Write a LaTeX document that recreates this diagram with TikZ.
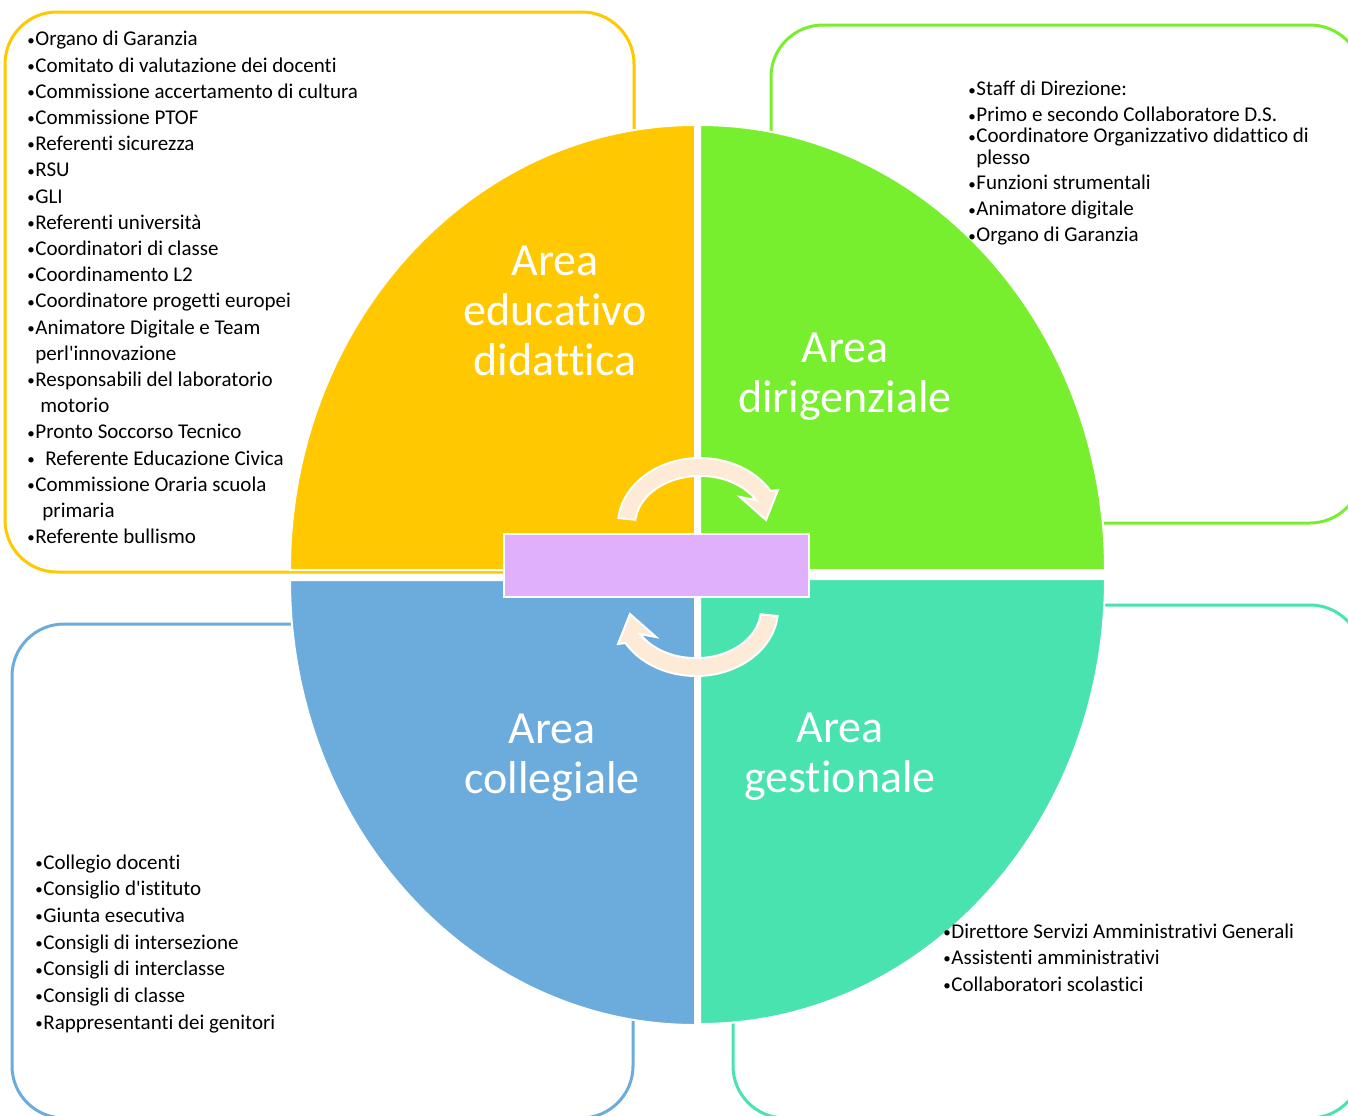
\documentclass[tikz,border=0pt]{standalone}
\usepackage{fontspec}
\setmainfont{Carlito}[Ligatures={TeX,NoCommon}]

\definecolor{edu}{HTML}{FFC800}
\definecolor{dir}{HTML}{77EE2E}
\definecolor{col}{HTML}{6CACDC}
\definecolor{ges}{HTML}{48E3AE}
\definecolor{hubfill}{HTML}{E0B0FC}
\definecolor{turnfill}{HTML}{FDEBD8}

\newcommand{\blt}{\makebox[4pt][l]{\raisebox{0.4pt}{\fontsize{7.5}{7.5}\selectfont\textbullet}}}

\begin{document}
\begin{tikzpicture}[x=0.5pt, y=-0.5pt,
    box/.style={line width=1.5pt, rounded corners=26pt},
    quarter/.style={draw=white, line width=1pt},
    turn/.style={fill=turnfill, draw=white, line width=1pt},
    lst/.style={anchor=north west, inner sep=0pt, align=left},
    big/.style={anchor=north, inner sep=0pt, align=center, text=white,
      font=\fontsize{23}{25}\selectfont}
    ]
    \useasboundingbox (0,0) rectangle (1348,1115);
    \clip (0,0) rectangle (1348,1115);

    \draw[box, draw=edu] (5,12) rectangle (634,572);
    \draw[box, draw=dir] (771,25) rectangle (1362,523);
    \draw[box, draw=col] (12,624) rectangle (633,1118);
    \draw[box, draw=ges] (733,605) rectangle (1362,1118);

    \filldraw[quarter, fill=edu] (695,570) -- (290,570)
      arc[start angle=180, end angle=270, x radius=405, y radius=445] -- cycle;
    \filldraw[quarter, fill=dir] (700,570) -- (700,125)
      arc[start angle=270, end angle=360, x radius=405, y radius=445] -- cycle;
    \filldraw[quarter, fill=ges] (700,579) -- (1105,579)
      arc[start angle=0, end angle=90, x radius=405, y radius=445] -- cycle;
    \filldraw[quarter, fill=col] (695,580) -- (695,1025)
      arc[start angle=90, end angle=180, x radius=405, y radius=445] -- cycle;

    \filldraw[turn] (618.4,518)
      arc[start angle=186, end angle=329.5, x radius=82, y radius=67]
      -- (778,490) -- (766,520) -- (740,497) -- (756,500)
      arc[start angle=329.5, end angle=186, x radius=65, y radius=49] -- cycle;
    \begin{scope}[rotate around={180:(698,567)}]
      \filldraw[turn] (618.4,518)
        arc[start angle=186, end angle=329.5, x radius=82, y radius=67]
        -- (778,490) -- (766,520) -- (740,497) -- (756,500)
        arc[start angle=329.5, end angle=186, x radius=65, y radius=49] -- cycle;
    \end{scope}

    \node[fill=hubfill, draw=white, line width=0.8pt, inner sep=0pt,
      minimum width=152.5pt, minimum height=31.5pt] (hub) at (656.5,565.5) {};

    \node[big] (edulabel) at (555,246) {Area\\educativo\\didattica};
    \node[big] (dirlabel) at (845,333) {Area\\dirigenziale};
    \node[big] (collabel) at (552,714) {Area\\collegiale};
    \node[big] (geslabel) at (840,713) {Area\\gestionale};

    \node[lst, font=\fontsize{10.5}{13.1}\selectfont] (edulist) at (27,31) {%
      \blt Organo di Garanzia\\
      \blt Comitato di valutazione dei docenti\\
      \blt Commissione accertamento di cultura\\
      \blt Commissione PTOF\\
      \blt Referenti sicurezza\\
      \blt RSU\\
      \blt GLI\\
      \blt Referenti università\\
      \blt Coordinatori di classe\\
      \blt Coordinamento L2\\
      \blt Coordinatore progetti europei\\
      \blt Animatore Digitale e Team\\
      \hspace*{4pt}perl\textquotesingle innovazione\\
      \blt Responsabili del laboratorio\\
      \hspace*{6.5pt}motorio\\
      \blt Pronto Soccorso Tecnico\\
      \blt\hspace{5pt}Referente Educazione Civica\\
      \blt Commissione Oraria scuola\\
      \hspace*{7.5pt}primaria\\
      \blt Referente bullismo};

    \node[lst, font=\fontsize{10.5}{13}\selectfont] (dirlist) at (968,81) {%
      \blt Staff di Direzione:\\
      \blt Primo e secondo Collaboratore D.S.\\[-2.5pt]
      \blt Coordinatore Organizzativo didattico di\\[-2pt]
      \hspace*{4pt}plesso\\[-0.5pt]
      \blt Funzioni strumentali\\
      \blt Animatore digitale\\
      \blt Organo di Garanzia};

    \node[lst, font=\fontsize{10.5}{13.35}\selectfont] (collist) at (35,854) {%
      \blt Collegio docenti\\
      \blt Consiglio d\textquotesingle istituto\\
      \blt Giunta esecutiva\\
      \blt Consigli di intersezione\\
      \blt Consigli di interclasse\\
      \blt Consigli di classe\\
      \blt Rappresentanti dei genitori};

    \node[lst, font=\fontsize{10.5}{13.25}\selectfont] (geslist) at (943,923) {%
      \blt Direttore Servizi Amministrativi Generali\\
      \blt Assistenti amministrativi\\
      \blt Collaboratori scolastici};
  \end{tikzpicture}
\end{document}
